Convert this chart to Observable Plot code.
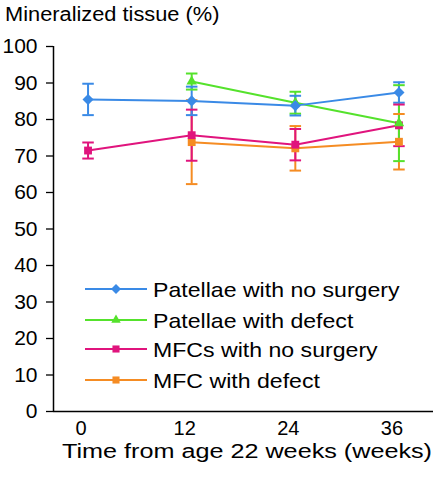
<!DOCTYPE html>
<html>
<head>
<meta charset="utf-8">
<script src="https://cdn.jsdelivr.net/npm/d3@7"></script>
<script src="https://cdn.jsdelivr.net/npm/@observablehq/plot@0.6"></script>
<style>
  html, body { margin: 0; padding: 0; background: #fff; }
  #wrap { position: relative; width: 441px; height: 477px; font-family: "Liberation Sans", Arial, Helvetica, sans-serif; }
  #title { position: absolute; left: 5px; top: 0px; font-size: 20px; line-height: 28px; color: #000; white-space: nowrap; transform: scaleX(1.09); transform-origin: left center; }
  #chart { position: absolute; left: 0; top: 30px; }
  #legend { position: absolute; left: 0; top: 0; pointer-events: none; }
</style>
</head>
<body>
<div id="wrap">
  <div id="title">Mineralized tissue (%)</div>
  <div id="chart"></div>
  <svg id="legend" width="441" height="477"></svg>
</div>
<script>
// ---- data ----
const seriesNames = ["Patellae with no surgery", "Patellae with defect", "MFCs with no surgery", "MFC with defect"];
const seriesColors = ["#3a8ae6", "#55e22c", "#e0147d", "#f58c23"];
const seriesSymbols = ["diamond2", "triangle2", "square2", "square2"];
const weeks = [0, 12, 24, 36];
const xTicks = [0, 12, 24, 36];
const yTicks = [0, 10, 20, 30, 40, 50, 60, 70, 80, 90, 100];

const patellaeNoSurgeryMean = [85.5, 85.1, 83.8, 87.4];
const patellaeNoSurgerySD   = [4.3, 3.9, 2.7, 2.8];
const patellaeDefectMean    = [null, 90.4, 84.6, 79.0];
const patellaeDefectSD      = [null, 2.2, 3.0, 10.4];
const mfcNoSurgeryMean      = [71.5, 75.7, 73.1, 78.4];
const mfcNoSurgerySD        = [2.2, 7.0, 4.3, 5.7];
const mfcDefectMean         = [null, 73.8, 72.1, 73.9];
const mfcDefectSD           = [null, 11.5, 6.1, 7.6];

const means = [patellaeNoSurgeryMean, patellaeDefectMean, mfcNoSurgeryMean, mfcDefectMean];
const sds = [patellaeNoSurgerySD, patellaeDefectSD, mfcNoSurgerySD, mfcDefectSD];

// build table (draw order: orange, magenta, green, blue)
const drawOrder = [3, 2, 1, 0];
const rows = [];
for (const s of drawOrder) {
  weeks.forEach((w, i) => {
    if (means[s][i] == null) return;
    rows.push({series: seriesNames[s], t: w, mean: means[s][i], lo: means[s][i] - sds[s][i], hi: means[s][i] + sds[s][i]});
  });
}

const capSymbol = {
  draw(context, size) {
    const r = Math.sqrt(size) / 2;
    context.moveTo(-r, 0);
    context.lineTo(r, 0);
  }
};

const colorScale = {domain: seriesNames, range: seriesColors};
const symbolScale = {domain: seriesNames, range: seriesSymbols};
const FONT = "'Liberation Sans', Arial, Helvetica, sans-serif";

const plot = Plot.plot({
  width: 441,
  height: 447,
  marginTop: 16,
  marginBottom: 66,
  marginLeft: 53,
  marginRight: 8,
  style: {fontFamily: FONT, fontSize: "21px", color: "#000", background: "#fff"},
  x: {domain: [-4, 40]},
  y: {domain: [0, 100]},
  color: colorScale,
  symbol: symbolScale,
  marks: [
    Plot.axisY({ticks: yTicks, tickSize: 7, tickPadding: 9, fontSize: 21, label: null, strokeWidth: 1.3}),
    Plot.axisX({ticks: xTicks, tickSize: 0, tickPadding: 9, fontSize: 20, dx: -7, label: null}),
    Plot.ruleX([-4], {y1: 0, y2: 100, stroke: "#000", strokeWidth: 1.5}),
    Plot.ruleY([0], {stroke: "#000", strokeWidth: 1.5}),
    Plot.ruleX(rows, {x: "t", y1: "lo", y2: "hi", stroke: "series", strokeWidth: 2}),
    Plot.dot(rows, {x: "t", y: "lo", stroke: "series", symbol: capSymbol, r: 6.5, strokeWidth: 2}),
    Plot.dot(rows, {x: "t", y: "hi", stroke: "series", symbol: capSymbol, r: 6.5, strokeWidth: 2}),
    Plot.line(rows, {x: "t", y: "mean", stroke: "series", z: "series", strokeWidth: 2}),
    Plot.dot(rows, {x: "t", y: "mean", fill: "series", symbol: "series", r: 5})
  ]
});
document.getElementById("chart").appendChild(plot);

// x axis title
const svg = d3.select(plot);
svg.append("text")
  .attr("x", 62).attr("y", 428)
  .attr("text-anchor", "start")
  .attr("font-size", 20)
  .attr("font-family", FONT)
  .attr("fill", "#000")
  .attr("textLength", 370)
  .attr("lengthAdjust", "spacingAndGlyphs")
  .text("Time from age 22 weeks (weeks)");

// legend
const legendRowsY = [289, 320, 349, 380];
const leg = d3.select("#legend");
const symMap = {diamond2: d3.symbolDiamond2, triangle2: d3.symbolTriangle2, square2: d3.symbolSquare2};
seriesNames.forEach((name, i) => {
  const g = leg.append("g").attr("transform", `translate(0,${legendRowsY[i]})`);
  g.append("line").attr("x1", 85).attr("x2", 147).attr("y1", 0).attr("y2", 0)
    .attr("stroke", seriesColors[i]).attr("stroke-width", 2);
  g.append("path").attr("transform", "translate(116,0)")
    .attr("d", d3.symbol(symMap[seriesSymbols[i]], 64)())
    .attr("fill", seriesColors[i]);
  const t = g.append("text").attr("x", 153).attr("y", 0).attr("dy", "0.36em")
    .attr("text-anchor", "start")
    .attr("font-size", 21).attr("fill", "#000")
    .attr("font-family", FONT)
    .text(name);
  const len = t.node().getComputedTextLength();
  t.attr("textLength", len * 1.1).attr("lengthAdjust", "spacingAndGlyphs");
});
</script>
</body>
</html>
